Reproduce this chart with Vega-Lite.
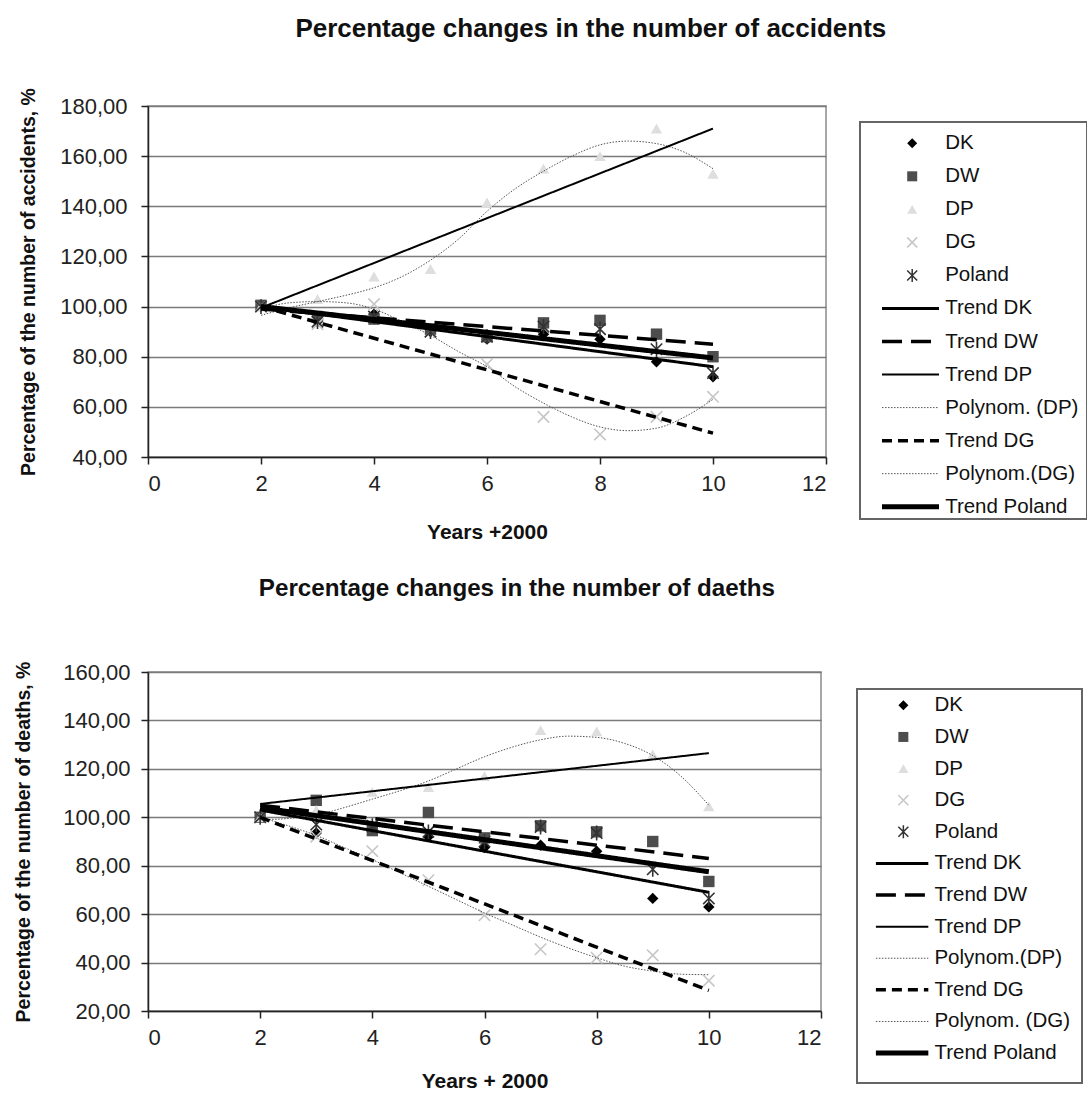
{
  "$schema": "https://vega.github.io/schema/vega-lite/v6.json",
  "padding": {"left": 12, "top": 15, "right": 0, "bottom": 0},
  "background": "white",
  "spacing": 34,
  "config": {
    "font": "Liberation Sans",
    "view": {"stroke": "#8a8a8a", "strokeWidth": 1.5},
    "axis": {"labelFont": "Liberation Sans", "labelFontSize": 22, "labelColor": "#222", "titleFont": "Liberation Sans", "titleFontSize": 20, "titleFontWeight": "bold", "titleColor": "#111", "domainColor": "#222", "domainWidth": 1.5, "tickColor": "#222", "tickWidth": 1.5, "tickSize": 7, "gridColor": "#7a7a7a", "gridWidth": 1.5},
    "title": {"font": "Liberation Sans", "fontWeight": "bold", "color": "#111"}
  },
  "datasets": {
    "ptsA": [
      {"s": "DK", "x": 2, "y": 100}, {"s": "DK", "x": 3, "y": 94}, {"s": "DK", "x": 4, "y": 97}, {"s": "DK", "x": 5, "y": 90}, {"s": "DK", "x": 6, "y": 87}, {"s": "DK", "x": 7, "y": 89}, {"s": "DK", "x": 8, "y": 87}, {"s": "DK", "x": 9, "y": 78}, {"s": "DK", "x": 10, "y": 72},
      {"s": "DW", "x": 2, "y": 100.5}, {"s": "DW", "x": 3, "y": 96}, {"s": "DW", "x": 4, "y": 95}, {"s": "DW", "x": 5, "y": 91}, {"s": "DW", "x": 6, "y": 88}, {"s": "DW", "x": 7, "y": 93.5}, {"s": "DW", "x": 8, "y": 94.5}, {"s": "DW", "x": 9, "y": 89}, {"s": "DW", "x": 10, "y": 80},
      {"s": "DP", "x": 2, "y": 100}, {"s": "DP", "x": 3, "y": 103}, {"s": "DP", "x": 4, "y": 112}, {"s": "DP", "x": 5, "y": 115}, {"s": "DP", "x": 6, "y": 141.5}, {"s": "DP", "x": 7, "y": 155}, {"s": "DP", "x": 8, "y": 160}, {"s": "DP", "x": 9, "y": 171}, {"s": "DP", "x": 10, "y": 153},
      {"s": "DG", "x": 2, "y": 100}, {"s": "DG", "x": 3, "y": 93}, {"s": "DG", "x": 4, "y": 101}, {"s": "DG", "x": 5, "y": 90}, {"s": "DG", "x": 6, "y": 77}, {"s": "DG", "x": 7, "y": 56}, {"s": "DG", "x": 8, "y": 49}, {"s": "DG", "x": 9, "y": 56}, {"s": "DG", "x": 10, "y": 64},
      {"s": "Poland", "x": 2, "y": 100}, {"s": "Poland", "x": 3, "y": 94}, {"s": "Poland", "x": 4, "y": 96}, {"s": "Poland", "x": 5, "y": 90}, {"s": "Poland", "x": 6, "y": 88}, {"s": "Poland", "x": 7, "y": 92}, {"s": "Poland", "x": 8, "y": 91}, {"s": "Poland", "x": 9, "y": 83}, {"s": "Poland", "x": 10, "y": 73.5}
    ],
    "linesA": [
      {"s": "PolyDP", "x": 2, "y": 96.5}, {"s": "PolyDP", "x": 2.5, "y": 99.5}, {"s": "PolyDP", "x": 3, "y": 102}, {"s": "PolyDP", "x": 3.5, "y": 104.5}, {"s": "PolyDP", "x": 4, "y": 107.5}, {"s": "PolyDP", "x": 4.5, "y": 112}, {"s": "PolyDP", "x": 5, "y": 118.5}, {"s": "PolyDP", "x": 5.5, "y": 127}, {"s": "PolyDP", "x": 6, "y": 138}, {"s": "PolyDP", "x": 6.5, "y": 147}, {"s": "PolyDP", "x": 7, "y": 154}, {"s": "PolyDP", "x": 7.5, "y": 160}, {"s": "PolyDP", "x": 8, "y": 164.5}, {"s": "PolyDP", "x": 8.5, "y": 166}, {"s": "PolyDP", "x": 9, "y": 165}, {"s": "PolyDP", "x": 9.5, "y": 161.5}, {"s": "PolyDP", "x": 10, "y": 155},
      {"s": "PolyDG", "x": 2, "y": 99}, {"s": "PolyDG", "x": 2.5, "y": 101.5}, {"s": "PolyDG", "x": 3, "y": 102}, {"s": "PolyDG", "x": 3.5, "y": 101.5}, {"s": "PolyDG", "x": 4, "y": 99}, {"s": "PolyDG", "x": 4.5, "y": 94}, {"s": "PolyDG", "x": 5, "y": 88.5}, {"s": "PolyDG", "x": 5.5, "y": 82}, {"s": "PolyDG", "x": 6, "y": 76}, {"s": "PolyDG", "x": 6.5, "y": 68}, {"s": "PolyDG", "x": 7, "y": 61.5}, {"s": "PolyDG", "x": 7.5, "y": 56}, {"s": "PolyDG", "x": 8, "y": 52}, {"s": "PolyDG", "x": 8.5, "y": 50.5}, {"s": "PolyDG", "x": 9, "y": 51.5}, {"s": "PolyDG", "x": 9.5, "y": 56}, {"s": "PolyDG", "x": 10, "y": 63},
      {"s": "Trend DP", "x": 2, "y": 99.5}, {"s": "Trend DP", "x": 10, "y": 171},
      {"s": "Trend DG", "x": 2, "y": 100}, {"s": "Trend DG", "x": 10, "y": 49.5},
      {"s": "Trend DW", "x": 2, "y": 99}, {"s": "Trend DW", "x": 10, "y": 85},
      {"s": "Trend DK", "x": 2, "y": 100}, {"s": "Trend DK", "x": 10, "y": 76},
      {"s": "Trend Poland", "x": 2, "y": 100}, {"s": "Trend Poland", "x": 10, "y": 79.5}
    ],
    "ptsB": [
      {"s": "DK", "x": 2, "y": 100}, {"s": "DK", "x": 3, "y": 93.5}, {"s": "DK", "x": 4, "y": 95}, {"s": "DK", "x": 5, "y": 92}, {"s": "DK", "x": 6, "y": 87.5}, {"s": "DK", "x": 7, "y": 88.5}, {"s": "DK", "x": 8, "y": 86}, {"s": "DK", "x": 9, "y": 66.5}, {"s": "DK", "x": 10, "y": 63},
      {"s": "DW", "x": 2, "y": 100}, {"s": "DW", "x": 3, "y": 107}, {"s": "DW", "x": 4, "y": 94.5}, {"s": "DW", "x": 5, "y": 102}, {"s": "DW", "x": 6, "y": 91.5}, {"s": "DW", "x": 7, "y": 96.5}, {"s": "DW", "x": 8, "y": 94}, {"s": "DW", "x": 9, "y": 90}, {"s": "DW", "x": 10, "y": 73.5},
      {"s": "DP", "x": 2, "y": 100}, {"s": "DP", "x": 3, "y": 103}, {"s": "DP", "x": 4, "y": 110.5}, {"s": "DP", "x": 5, "y": 112.5}, {"s": "DP", "x": 6, "y": 117}, {"s": "DP", "x": 7, "y": 136}, {"s": "DP", "x": 8, "y": 135.5}, {"s": "DP", "x": 9, "y": 126}, {"s": "DP", "x": 10, "y": 104.5},
      {"s": "DG", "x": 2, "y": 100}, {"s": "DG", "x": 3, "y": 92}, {"s": "DG", "x": 4, "y": 86}, {"s": "DG", "x": 5, "y": 74}, {"s": "DG", "x": 6, "y": 59.5}, {"s": "DG", "x": 7, "y": 45.5}, {"s": "DG", "x": 8, "y": 42}, {"s": "DG", "x": 9, "y": 43}, {"s": "DG", "x": 10, "y": 32.5},
      {"s": "Poland", "x": 2, "y": 100}, {"s": "Poland", "x": 3, "y": 97}, {"s": "Poland", "x": 4, "y": 96.5}, {"s": "Poland", "x": 5, "y": 94}, {"s": "Poland", "x": 6, "y": 90}, {"s": "Poland", "x": 7, "y": 96}, {"s": "Poland", "x": 8, "y": 93.5}, {"s": "Poland", "x": 9, "y": 78.5}, {"s": "Poland", "x": 10, "y": 66.5}
    ],
    "linesB": [
      {"s": "PolyDP", "x": 2, "y": 99}, {"s": "PolyDP", "x": 2.5, "y": 99.5}, {"s": "PolyDP", "x": 3, "y": 101}, {"s": "PolyDP", "x": 3.5, "y": 104}, {"s": "PolyDP", "x": 4, "y": 107.5}, {"s": "PolyDP", "x": 4.5, "y": 111}, {"s": "PolyDP", "x": 5, "y": 115}, {"s": "PolyDP", "x": 5.5, "y": 120}, {"s": "PolyDP", "x": 6, "y": 125}, {"s": "PolyDP", "x": 6.5, "y": 129}, {"s": "PolyDP", "x": 7, "y": 132}, {"s": "PolyDP", "x": 7.5, "y": 133.5}, {"s": "PolyDP", "x": 8, "y": 133}, {"s": "PolyDP", "x": 8.5, "y": 130.5}, {"s": "PolyDP", "x": 9, "y": 125.5}, {"s": "PolyDP", "x": 9.5, "y": 117}, {"s": "PolyDP", "x": 10, "y": 105},
      {"s": "PolyDG", "x": 2, "y": 100}, {"s": "PolyDG", "x": 2.5, "y": 96.5}, {"s": "PolyDG", "x": 3, "y": 92.5}, {"s": "PolyDG", "x": 3.5, "y": 87.5}, {"s": "PolyDG", "x": 4, "y": 82.5}, {"s": "PolyDG", "x": 4.5, "y": 77}, {"s": "PolyDG", "x": 5, "y": 71.5}, {"s": "PolyDG", "x": 5.5, "y": 66}, {"s": "PolyDG", "x": 6, "y": 60.5}, {"s": "PolyDG", "x": 6.5, "y": 55.5}, {"s": "PolyDG", "x": 7, "y": 50.5}, {"s": "PolyDG", "x": 7.5, "y": 46}, {"s": "PolyDG", "x": 8, "y": 42}, {"s": "PolyDG", "x": 8.5, "y": 38.5}, {"s": "PolyDG", "x": 9, "y": 36.5}, {"s": "PolyDG", "x": 9.5, "y": 35.2}, {"s": "PolyDG", "x": 10, "y": 35},
      {"s": "Trend DP", "x": 2, "y": 105.5}, {"s": "Trend DP", "x": 10, "y": 126.5},
      {"s": "Trend DG", "x": 2, "y": 100}, {"s": "Trend DG", "x": 10, "y": 28.5},
      {"s": "Trend DW", "x": 2, "y": 105}, {"s": "Trend DW", "x": 10, "y": 83},
      {"s": "Trend DK", "x": 2, "y": 103}, {"s": "Trend DK", "x": 10, "y": 69},
      {"s": "Trend Poland", "x": 2, "y": 104}, {"s": "Trend Poland", "x": 10, "y": 77.5}
    ],
    "legA": [
      {"s": "DK", "label": "DK", "k": "p"}, {"s": "DW", "label": "DW", "k": "p"}, {"s": "DP", "label": "DP", "k": "p"}, {"s": "DG", "label": "DG", "k": "p"}, {"s": "Poland", "label": "Poland", "k": "p"},
      {"s": "Trend DK", "label": "Trend DK", "k": "l"}, {"s": "Trend DW", "label": "Trend DW", "k": "l"}, {"s": "Trend DP", "label": "Trend DP", "k": "l"}, {"s": "PolyDP", "label": "Polynom. (DP)", "k": "l"}, {"s": "Trend DG", "label": "Trend DG", "k": "l"}, {"s": "PolyDG", "label": "Polynom.(DG)", "k": "l"}, {"s": "Trend Poland", "label": "Trend Poland", "k": "l"}
    ],
    "legB": [
      {"s": "DK", "label": "DK", "k": "p"}, {"s": "DW", "label": "DW", "k": "p"}, {"s": "DP", "label": "DP", "k": "p"}, {"s": "DG", "label": "DG", "k": "p"}, {"s": "Poland", "label": "Poland", "k": "p"},
      {"s": "Trend DK", "label": "Trend DK", "k": "l"}, {"s": "Trend DW", "label": "Trend DW", "k": "l"}, {"s": "Trend DP", "label": "Trend DP", "k": "l"}, {"s": "PolyDP", "label": "Polynom.(DP)", "k": "l"}, {"s": "Trend DG", "label": "Trend DG", "k": "l"}, {"s": "PolyDG", "label": "Polynom. (DG)", "k": "l"}, {"s": "Trend Poland", "label": "Trend Poland", "k": "l"}
    ]
  },
  "vconcat": [
    {
      "title": {"text": "Percentage changes in the number of accidents", "fontSize": 26, "anchor": "middle", "dx": 38, "offset": 45},
      "spacing": 34,
      "bounds": "flush",
      "hconcat": [
        {
          "width": 678, "height": 351,
          "encoding": {
            "x": {"field": "x", "type": "quantitative", "scale": {"domain": [0, 12], "nice": false}, "axis": {"values": [0, 2, 4, 6, 8, 10, 12], "grid": false, "format": "d", "title": "Years +2000", "titleFontSize": 21, "labelPadding": 9, "titlePadding": 27}},
            "y": {"field": "y", "type": "quantitative", "scale": {"domain": [40, 180], "nice": false, "zero": false}, "axis": {"values": [40, 60, 80, 100, 120, 140, 160, 180], "grid": true, "labelExpr": "replace(format(datum.value, '.2f'), '.', ',')", "title": "Percentage of the number of accidents, %", "titleFontSize": 19.5, "labelPadding": 14, "titlePadding": 21}}
          },
          "layer": [
            {
              "data": {"name": "ptsA"},
              "mark": {"type": "point", "filled": true, "size": 130, "strokeWidth": 1.6, "opacity": 1},
              "encoding": {
                "shape": {"field": "s", "type": "nominal", "legend": null, "scale": {"domain": ["DK", "DW", "DP", "DG", "Poland"], "range": ["diamond", "square", "triangle-up", "M-1,-1L1,1M-1,1L1,-1", "M-1,-1L1,1M-1,1L1,-1M0,-1.3L0,1.3"]}},
                "fill": {"field": "s", "type": "nominal", "legend": null, "scale": {"domain": ["DK", "DW", "DP", "DG", "Poland"], "range": ["#000000", "#4d4d4d", "#dedede", "#c6c6c6", "#333333"]}},
                "stroke": {"field": "s", "type": "nominal", "legend": null, "scale": {"domain": ["DK", "DW", "DP", "DG", "Poland"], "range": ["transparent", "transparent", "transparent", "#c6c6c6", "#333333"]}}
              }
            },
            {
              "data": {"name": "linesA"},
              "mark": {"type": "line", "interpolate": "monotone"},
              "encoding": {
                "detail": {"field": "s", "type": "nominal"},
                "color": {"field": "s", "type": "nominal", "legend": null, "scale": {"domain": ["PolyDP", "PolyDG", "Trend DP", "Trend DG", "Trend DW", "Trend DK", "Trend Poland"], "range": ["#555555", "#555555", "#000000", "#000000", "#000000", "#000000", "#000000"]}},
                "strokeDash": {"field": "s", "type": "nominal", "legend": null, "scale": {"domain": ["PolyDP", "PolyDG", "Trend DP", "Trend DG", "Trend DW", "Trend DK", "Trend Poland"], "range": [[1.5, 1.5], [1.5, 1.5], [1, 0], [10, 6], [20, 9], [1, 0], [1, 0]]}},
                "strokeWidth": {"field": "s", "type": "nominal", "legend": null, "scale": {"type": "ordinal", "domain": ["PolyDP", "PolyDG", "Trend DP", "Trend DG", "Trend DW", "Trend DK", "Trend Poland"], "range": [1, 1, 2, 3.5, 3.5, 3, 5]}}
              }
            }
          ]
        },
        {
          "width": 227, "height": 413,
          "view": {"stroke": null},
          "data": {"name": "legA"},
          "resolve": {"scale": {"y": "independent"}},
          "layer": [
            {
              "mark": {"type": "rect", "filled": false, "stroke": "#666666", "strokeWidth": 1.5},
              "encoding": {
                "x": {"datum": 0, "type": "quantitative", "scale": {"domain": [0, 10]}, "axis": null},
                "x2": {"datum": 10},
                "y": {"datum": 0.038, "type": "quantitative", "scale": {"domain": [0, 1], "reverse": true}, "axis": null},
                "y2": {"datum": 1}
              }
            },
            {
              "transform": [{"filter": "datum.k == 'p'"}],
              "mark": {"type": "point", "filled": true, "size": 100, "strokeWidth": 1.5, "opacity": 1},
              "encoding": {
                "x": {"datum": 2.3, "type": "quantitative", "scale": {"domain": [0, 10]}, "axis": null},
                "y": {"field": "s", "type": "nominal", "axis": null, "scale": {"type": "point", "domain": ["DK", "DW", "DP", "DG", "Poland", "Trend DK", "Trend DW", "Trend DP", "PolyDP", "Trend DG", "PolyDG", "Trend Poland"], "padding": 0.75, "align": 0.752}},
                "shape": {"field": "s", "type": "nominal", "legend": null, "scale": {"domain": ["DK", "DW", "DP", "DG", "Poland"], "range": ["diamond", "square", "triangle-up", "M-1,-1L1,1M-1,1L1,-1", "M-1,-1L1,1M-1,1L1,-1M0,-1.3L0,1.3"]}},
                "fill": {"field": "s", "type": "nominal", "legend": null, "scale": {"domain": ["DK", "DW", "DP", "DG", "Poland"], "range": ["#000000", "#4d4d4d", "#dedede", "#c6c6c6", "#333333"]}},
                "stroke": {"field": "s", "type": "nominal", "legend": null, "scale": {"domain": ["DK", "DW", "DP", "DG", "Poland"], "range": ["transparent", "transparent", "transparent", "#c6c6c6", "#333333"]}}
              }
            },
            {
              "transform": [{"filter": "datum.k == 'l'"}],
              "mark": {"type": "rule"},
              "encoding": {
                "x": {"datum": 0.97, "type": "quantitative", "scale": {"domain": [0, 10]}, "axis": null},
                "x2": {"datum": 3.48},
                "y": {"field": "s", "type": "nominal", "axis": null, "scale": {"type": "point", "domain": ["DK", "DW", "DP", "DG", "Poland", "Trend DK", "Trend DW", "Trend DP", "PolyDP", "Trend DG", "PolyDG", "Trend Poland"], "padding": 0.75, "align": 0.752}},
                "color": {"field": "s", "type": "nominal", "legend": null, "scale": {"domain": ["PolyDP", "PolyDG", "Trend DP", "Trend DG", "Trend DW", "Trend DK", "Trend Poland"], "range": ["#555555", "#555555", "#000000", "#000000", "#000000", "#000000", "#000000"]}},
                "strokeDash": {"field": "s", "type": "nominal", "legend": null, "scale": {"domain": ["PolyDP", "PolyDG", "Trend DP", "Trend DG", "Trend DW", "Trend DK", "Trend Poland"], "range": [[1.5, 1.5], [1.5, 1.5], [1, 0], [8, 5], [20, 9], [1, 0], [1, 0]]}},
                "strokeWidth": {"field": "s", "type": "nominal", "legend": null, "scale": {"type": "ordinal", "domain": ["PolyDP", "PolyDG", "Trend DP", "Trend DG", "Trend DW", "Trend DK", "Trend Poland"], "range": [1, 1, 2, 3.5, 3.5, 3, 5]}}
              }
            },
            {
              "mark": {"type": "text", "align": "left", "baseline": "middle", "fontSize": 20.5, "font": "Liberation Sans", "color": "#111"},
              "encoding": {
                "x": {"datum": 3.75, "type": "quantitative", "scale": {"domain": [0, 10]}, "axis": null},
                "y": {"field": "s", "type": "nominal", "axis": null, "scale": {"type": "point", "domain": ["DK", "DW", "DP", "DG", "Poland", "Trend DK", "Trend DW", "Trend DP", "PolyDP", "Trend DG", "PolyDG", "Trend Poland"], "padding": 0.75, "align": 0.752}},
                "text": {"field": "label"}
              }
            }
          ]
        }
      ]
    },
    {
      "title": {"text": "Percentage changes in the number of daeths", "fontSize": 24.2, "anchor": "middle", "dx": -31, "offset": 59},
      "spacing": 36,
      "bounds": "flush",
      "hconcat": [
        {
          "width": 673, "height": 339,
          "encoding": {
            "x": {"field": "x", "type": "quantitative", "scale": {"domain": [0, 12], "nice": false}, "axis": {"values": [0, 2, 4, 6, 8, 10, 12], "grid": false, "format": "d", "title": "Years + 2000", "titleFontSize": 21, "labelPadding": 9, "titlePadding": 22}},
            "y": {"field": "y", "type": "quantitative", "scale": {"domain": [20, 160], "nice": false, "zero": false}, "axis": {"values": [20, 40, 60, 80, 100, 120, 140, 160], "grid": true, "labelExpr": "replace(format(datum.value, '.2f'), '.', ',')", "title": "Percentage of the number of deaths, %", "titleFontSize": 19.5, "labelPadding": 11, "titlePadding": 29}}
          },
          "layer": [
            {
              "data": {"name": "ptsB"},
              "mark": {"type": "point", "filled": true, "size": 130, "strokeWidth": 1.6, "opacity": 1},
              "encoding": {
                "shape": {"field": "s", "type": "nominal", "legend": null, "scale": {"domain": ["DK", "DW", "DP", "DG", "Poland"], "range": ["diamond", "square", "triangle-up", "M-1,-1L1,1M-1,1L1,-1", "M-1,-1L1,1M-1,1L1,-1M0,-1.3L0,1.3"]}},
                "fill": {"field": "s", "type": "nominal", "legend": null, "scale": {"domain": ["DK", "DW", "DP", "DG", "Poland"], "range": ["#000000", "#4d4d4d", "#dedede", "#c6c6c6", "#333333"]}},
                "stroke": {"field": "s", "type": "nominal", "legend": null, "scale": {"domain": ["DK", "DW", "DP", "DG", "Poland"], "range": ["transparent", "transparent", "transparent", "#c6c6c6", "#333333"]}}
              }
            },
            {
              "data": {"name": "linesB"},
              "mark": {"type": "line", "interpolate": "monotone"},
              "encoding": {
                "detail": {"field": "s", "type": "nominal"},
                "color": {"field": "s", "type": "nominal", "legend": null, "scale": {"domain": ["PolyDP", "PolyDG", "Trend DP", "Trend DG", "Trend DW", "Trend DK", "Trend Poland"], "range": ["#555555", "#555555", "#000000", "#000000", "#000000", "#000000", "#000000"]}},
                "strokeDash": {"field": "s", "type": "nominal", "legend": null, "scale": {"domain": ["PolyDP", "PolyDG", "Trend DP", "Trend DG", "Trend DW", "Trend DK", "Trend Poland"], "range": [[1.5, 1.5], [1.5, 1.5], [1, 0], [10, 6], [20, 9], [1, 0], [1, 0]]}},
                "strokeWidth": {"field": "s", "type": "nominal", "legend": null, "scale": {"type": "ordinal", "domain": ["PolyDP", "PolyDG", "Trend DP", "Trend DG", "Trend DW", "Trend DK", "Trend Poland"], "range": [1, 1, 2, 3.5, 3.5, 3, 5]}}
              }
            }
          ]
        },
        {
          "width": 225, "height": 411,
          "view": {"stroke": null},
          "data": {"name": "legB"},
          "resolve": {"scale": {"y": "independent"}},
          "layer": [
            {
              "mark": {"type": "rect", "filled": false, "stroke": "#666666", "strokeWidth": 1.5},
              "encoding": {
                "x": {"datum": 0, "type": "quantitative", "scale": {"domain": [0, 10]}, "axis": null},
                "x2": {"datum": 10},
                "y": {"datum": 0.041, "type": "quantitative", "scale": {"domain": [0, 1], "reverse": true}, "axis": null},
                "y2": {"datum": 1}
              }
            },
            {
              "transform": [{"filter": "datum.k == 'p'"}],
              "mark": {"type": "point", "filled": true, "size": 100, "strokeWidth": 1.5, "opacity": 1},
              "encoding": {
                "x": {"datum": 2.06, "type": "quantitative", "scale": {"domain": [0, 10]}, "axis": null},
                "y": {"field": "s", "type": "nominal", "axis": null, "scale": {"type": "point", "domain": ["DK", "DW", "DP", "DG", "Poland", "Trend DK", "Trend DW", "Trend DP", "PolyDP", "Trend DG", "PolyDG", "Trend Poland"], "padding": 1.05, "align": 0.527}},
                "shape": {"field": "s", "type": "nominal", "legend": null, "scale": {"domain": ["DK", "DW", "DP", "DG", "Poland"], "range": ["diamond", "square", "triangle-up", "M-1,-1L1,1M-1,1L1,-1", "M-1,-1L1,1M-1,1L1,-1M0,-1.3L0,1.3"]}},
                "fill": {"field": "s", "type": "nominal", "legend": null, "scale": {"domain": ["DK", "DW", "DP", "DG", "Poland"], "range": ["#000000", "#4d4d4d", "#dedede", "#c6c6c6", "#333333"]}},
                "stroke": {"field": "s", "type": "nominal", "legend": null, "scale": {"domain": ["DK", "DW", "DP", "DG", "Poland"], "range": ["transparent", "transparent", "transparent", "#c6c6c6", "#333333"]}}
              }
            },
            {
              "transform": [{"filter": "datum.k == 'l'"}],
              "mark": {"type": "rule"},
              "encoding": {
                "x": {"datum": 0.84, "type": "quantitative", "scale": {"domain": [0, 10]}, "axis": null},
                "x2": {"datum": 3.17},
                "y": {"field": "s", "type": "nominal", "axis": null, "scale": {"type": "point", "domain": ["DK", "DW", "DP", "DG", "Poland", "Trend DK", "Trend DW", "Trend DP", "PolyDP", "Trend DG", "PolyDG", "Trend Poland"], "padding": 1.05, "align": 0.527}},
                "color": {"field": "s", "type": "nominal", "legend": null, "scale": {"domain": ["PolyDP", "PolyDG", "Trend DP", "Trend DG", "Trend DW", "Trend DK", "Trend Poland"], "range": ["#555555", "#555555", "#000000", "#000000", "#000000", "#000000", "#000000"]}},
                "strokeDash": {"field": "s", "type": "nominal", "legend": null, "scale": {"domain": ["PolyDP", "PolyDG", "Trend DP", "Trend DG", "Trend DW", "Trend DK", "Trend Poland"], "range": [[1.5, 1.5], [1.5, 1.5], [1, 0], [8, 5], [20, 9], [1, 0], [1, 0]]}},
                "strokeWidth": {"field": "s", "type": "nominal", "legend": null, "scale": {"type": "ordinal", "domain": ["PolyDP", "PolyDG", "Trend DP", "Trend DG", "Trend DW", "Trend DK", "Trend Poland"], "range": [1, 1, 2, 3.5, 3.5, 3, 5]}}
              }
            },
            {
              "mark": {"type": "text", "align": "left", "baseline": "middle", "fontSize": 20.5, "font": "Liberation Sans", "color": "#111"},
              "encoding": {
                "x": {"datum": 3.44, "type": "quantitative", "scale": {"domain": [0, 10]}, "axis": null},
                "y": {"field": "s", "type": "nominal", "axis": null, "scale": {"type": "point", "domain": ["DK", "DW", "DP", "DG", "Poland", "Trend DK", "Trend DW", "Trend DP", "PolyDP", "Trend DG", "PolyDG", "Trend Poland"], "padding": 1.05, "align": 0.527}},
                "text": {"field": "label"}
              }
            }
          ]
        }
      ]
    }
  ]
}
